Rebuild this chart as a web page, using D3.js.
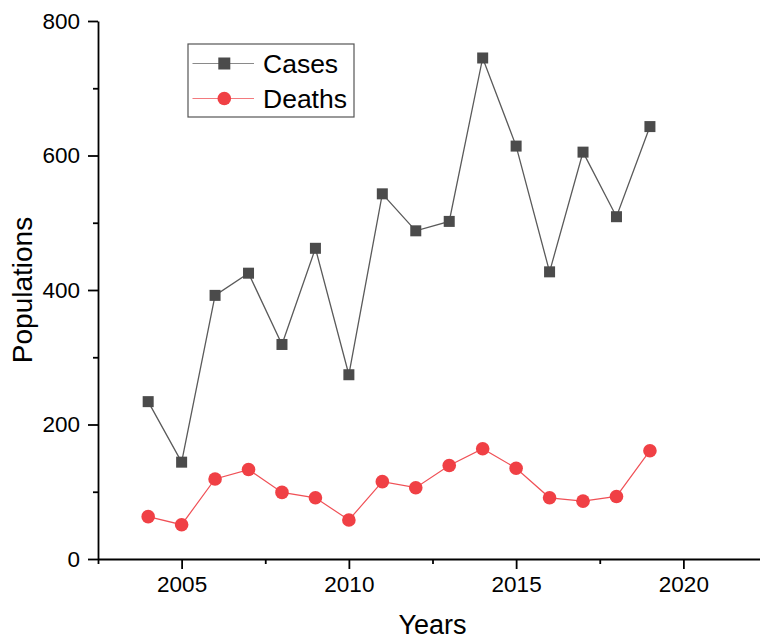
<!DOCTYPE html>
<meta charset="utf-8">
<head>
  <script src="https://d3js.org/d3.v7.min.js"></script>
  <style>
    body { margin: 0; background: #fff; }
    text { font-family: "Liberation Sans", Arial, sans-serif; fill: #000; }
    .axis path, .axis line { stroke: #000; stroke-width: 1.8; }
  </style>
</head>
<body>
  <div id="chart"></div>
  <script>

    // data
    var years = [2004, 2005, 2006, 2007, 2008, 2009, 2010, 2011, 2012, 2013, 2014, 2015, 2016, 2017, 2018, 2019];
    var cases = [234, 144, 392, 425, 319, 462, 274, 543, 488, 502, 745, 614, 427, 605, 509, 643];
    var deaths = [63, 51, 119, 133, 99, 91, 58, 115, 106, 139, 164, 135, 91, 86, 93, 161];
    var xTicks = [2005, 2010, 2015, 2020];
    var xMinorTicks = [2002.5, 2007.5, 2012.5, 2017.5, 2022.5];
    var yTicks = [0, 200, 400, 600, 800];
    var yMinorTicks = [100, 300, 500, 700];
    var seriesNames = ["Cases", "Deaths"];

    var W = 760, H = 643;
    var margin = { top: 21, right: -7, bottom: 84, left: 98 },
      width = W - margin.left - margin.right,
      height = H - margin.top - margin.bottom;

    var svg = d3.select("#chart")
      .append("svg")
      .attr("width", W)
      .attr("height", H)
      .append("g")
      .attr("transform", "translate(" + margin.left + "," + margin.top + ")");

    var x = d3.scaleLinear().domain([2002.5, 2022.5]).range([0, width]);
    var y = d3.scaleLinear().domain([0, 800]).range([height, 0]);

    // minor ticks first, then the main axes over them
    svg.append("g")
      .attr("class", "axis")
      .attr("transform", "translate(0," + height + ")")
      .call(d3.axisBottom(x).tickValues(xMinorTicks).tickSize(5).tickFormat(""))
      .select(".domain").remove();
    svg.append("g")
      .attr("class", "axis")
      .call(d3.axisLeft(y).tickValues(yMinorTicks).tickSize(5).tickFormat(""))
      .select(".domain").remove();

    var xAxis = svg.append("g")
      .attr("class", "axis")
      .attr("transform", "translate(0," + height + ")")
      .call(d3.axisBottom(x).tickValues(xTicks).tickSize(10).tickSizeOuter(0).tickPadding(7).tickFormat(d3.format("d")));
    xAxis.selectAll("text").style("font-size", "22.5px").attr("dy", "0.71em");

    var yAxis = svg.append("g")
      .attr("class", "axis")
      .call(d3.axisLeft(y).tickValues(yTicks).tickSize(10).tickSizeOuter(0).tickPadding(8));
    yAxis.selectAll("text").style("font-size", "22.5px");

    // axis titles
    svg.append("text")
      .attr("x", width / 2)
      .attr("y", height + 75)
      .attr("text-anchor", "middle")
      .style("font-size", "27px")
      .text("Years");

    svg.append("text")
      .attr("transform", "translate(-66," + (height / 2) + ") rotate(-90)")
      .attr("text-anchor", "middle")
      .style("font-size", "28px")
      .text("Populations");

    var colors = { Cases: "#4b4b4b", Deaths: "#f04045" };
    var lineColors = { Cases: "#5a5a5a", Deaths: "#f05056" };

    var line = d3.line()
      .x(function (d) { return x(d[0]); })
      .y(function (d) { return y(d[1]); });

    var casesData = years.map(function (yr, i) { return [yr, cases[i]]; });
    var deathsData = years.map(function (yr, i) { return [yr, deaths[i]]; });

    svg.append("path")
      .datum(casesData)
      .attr("fill", "none")
      .attr("stroke", lineColors.Cases)
      .attr("stroke-width", 1.3)
      .attr("d", line);

    svg.selectAll(".sq")
      .data(casesData)
      .enter()
      .append("rect")
      .attr("x", function (d) { return x(d[0]) - 5.5; })
      .attr("y", function (d) { return y(d[1]) - 5.5; })
      .attr("width", 11)
      .attr("height", 11)
      .attr("fill", colors.Cases);

    svg.append("path")
      .datum(deathsData)
      .attr("fill", "none")
      .attr("stroke", lineColors.Deaths)
      .attr("stroke-width", 1.2)
      .attr("d", line);

    svg.selectAll(".dot")
      .data(deathsData)
      .enter()
      .append("circle")
      .attr("cx", function (d) { return x(d[0]); })
      .attr("cy", function (d) { return y(d[1]); })
      .attr("r", 6.8)
      .attr("fill", colors.Deaths);

    // legend
    var legend = svg.append("g").attr("transform", "translate(90,23)");
    legend.append("rect")
      .attr("width", 166)
      .attr("height", 73)
      .attr("fill", "#fff")
      .attr("stroke", "#555")
      .attr("stroke-width", 1.2);

    seriesNames.forEach(function (name, i) {
      var ly = 19.5 + i * 35;
      legend.append("line")
        .attr("x1", 4.5).attr("x2", 66)
        .attr("y1", ly).attr("y2", ly)
        .attr("stroke", name === "Cases" ? "#8a8a8a" : "#f37a7e")
        .attr("stroke-width", 1.2);
      if (name === "Cases") {
        legend.append("rect")
          .attr("x", 36.3 - 6).attr("y", ly - 6)
          .attr("width", 12).attr("height", 12)
          .attr("fill", colors.Cases);
      } else {
        legend.append("circle")
          .attr("cx", 36.3).attr("cy", ly)
          .attr("r", 6.8)
          .attr("fill", colors.Deaths);
      }
      legend.append("text")
        .attr("x", 75)
        .attr("y", ly + 9.5)
        .style("font-size", "26.5px")
        .text(name);
    });

  </script>
</body>
